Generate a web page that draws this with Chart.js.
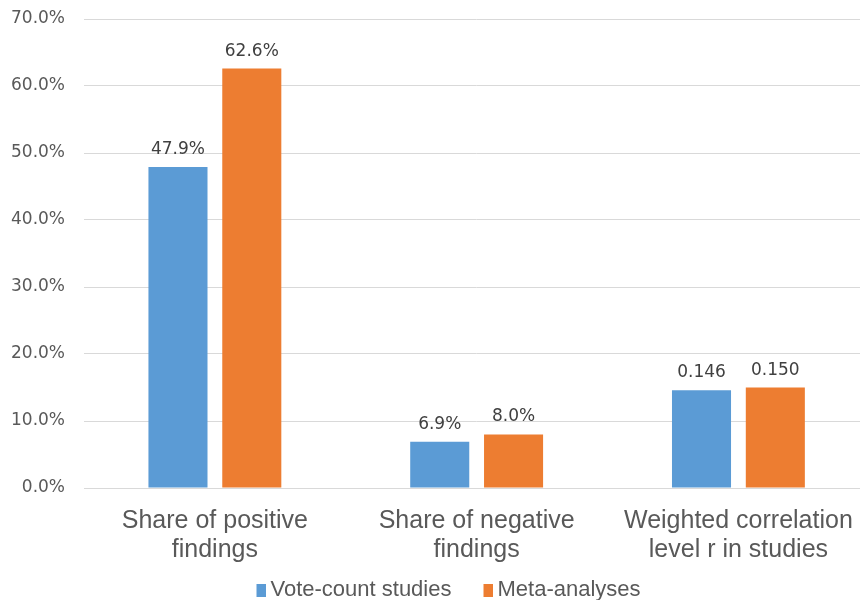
<!DOCTYPE html>
<html>
<head>
<meta charset="utf-8">
<script src="https://cdn.jsdelivr.net/npm/chart.js@4/dist/chart.umd.min.js"></script>
<style>
  html, body { margin: 0; padding: 0; background: #fff; overflow: hidden; }
  #wrap { width: 872px; height: 600px; }
</style>
</head>
<body>
<div id="wrap"><canvas id="c" width="872" height="600"></canvas></div>
<script>
// Categories compared between the two study types
const categories = [
  ['Share of positive', 'findings'],
  ['Share of negative', 'findings'],
  ['Weighted correlation', 'level r in studies']
];
const seriesNames = ['Vote-count studies', 'Meta-analyses'];
const seriesColors = ['#5b9bd5', '#ed7d31'];
// Shares are stored as fractions; the correlation row holds r itself
const voteCount = [0.479, 0.069, 0.146];
const metaAnalyses = [0.626, 0.080, 0.150];
// How each category's value is written above its bar
const labelStyle = ['percent', 'percent', 'decimal'];
const yTicks = [0, 0.1, 0.2, 0.3, 0.4, 0.5, 0.6, 0.7];

const pct = v => (v * 100).toFixed(1) + '%';

// Legend swatch: a small square sitting close to its label text
const SWATCH_BOX = 19;
function swatch(color) {
  const c = document.createElement('canvas');
  c.width = SWATCH_BOX + 14; c.height = 13;
  const g = c.getContext('2d');
  g.fillStyle = color;
  g.fillRect(c.width - 10, 0, 10, 13);
  return c;
}

const valueLabels = {
  id: 'valueLabels',
  afterDatasetsDraw(chart) {
    const ctx = chart.ctx;
    ctx.save();
    ctx.font = '17px "DejaVu Sans"';
    ctx.fillStyle = '#404040';
    ctx.textAlign = 'center';
    ctx.textBaseline = 'alphabetic';
    chart.data.datasets.forEach((ds, di) => {
      chart.getDatasetMeta(di).data.forEach((bar, i) => {
        const v = ds.data[i];
        const txt = labelStyle[i] === 'percent' ? pct(v) : v.toFixed(3);
        ctx.fillText(txt, bar.x, bar.y - 13);
      });
    });
    ctx.restore();
  }
};

// Centre the legend under the plot area rather than the whole canvas
const legendShift = {
  id: 'legendShift',
  afterLayout(chart) {
    const lg = chart.legend;
    if (lg) { lg.left += 5; lg.right += 5; }
  }
};

new Chart(document.getElementById('c'), {
  type: 'bar',
  data: {
    labels: categories,
    datasets: [
      { label: seriesNames[0], data: voteCount, backgroundColor: seriesColors[0], borderWidth: 0 },
      { label: seriesNames[1], data: metaAnalyses, backgroundColor: seriesColors[1], borderWidth: 0 }
    ]
  },
  options: {
    responsive: false,
    animation: false,
    layout: { padding: { top: 0, right: 1, bottom: -11, left: 0 } },
    datasets: { bar: { categoryPercentage: 0.564, barPercentage: 0.8 } },
    plugins: {
      legend: {
        position: 'bottom',
        labels: {
          usePointStyle: true,
          boxWidth: SWATCH_BOX, boxHeight: 13, padding: 16,
          color: '#595959',
          font: { family: '"Liberation Sans", Arial, sans-serif', size: 22, lineHeight: 1 },
          generateLabels(chart) {
            const items = Chart.defaults.plugins.legend.labels.generateLabels(chart);
            items.forEach((it, i) => { it.pointStyle = swatch(seriesColors[i]); });
            return items;
          }
        }
      },
      tooltip: { enabled: false }
    },
    scales: {
      x: {
        grid: { display: false, drawTicks: false },
        border: { color: '#d9d9d9', width: 1 },
        ticks: {
          color: '#595959', padding: 19, maxRotation: 0,
          font: { family: '"Liberation Sans", Arial, sans-serif', size: 25, lineHeight: 1.16 }
        },
        afterFit(s) { s.height = 75; }
      },
      y: {
        min: 0, max: 0.7,
        afterBuildTicks(s) { s.ticks = yTicks.map(v => ({ value: v })); },
        grid: { color: '#d9d9d9', drawTicks: false },
        border: { display: false },
        ticks: {
          color: '#595959', padding: 19,
          font: { family: '"DejaVu Sans"', size: 17 },
          callback: v => pct(v)
        },
        afterFit(s) { s.width = 84; s.paddingTop = 19; s.paddingBottom = 0; }
      }
    }
  },
  plugins: [valueLabels, legendShift]
});
</script>
</body>
</html>
